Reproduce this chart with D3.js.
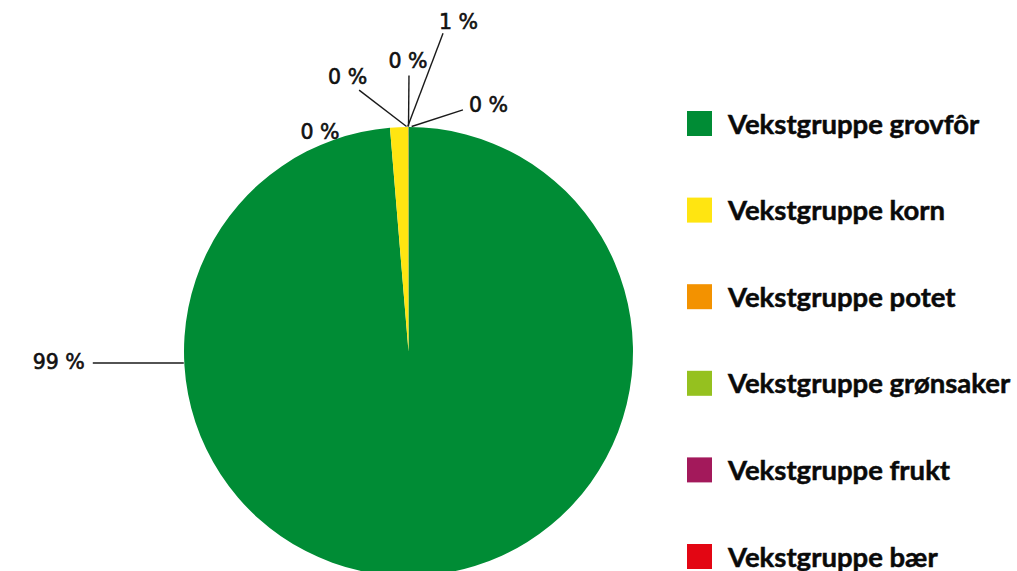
<!DOCTYPE html>
<html><head><meta charset="utf-8">
<script src="https://cdn.jsdelivr.net/npm/d3@7"></script>
<style>
html,body{margin:0;padding:0;background:#fff;}
svg{display:block;}
</style></head>
<body>
<svg id="chart" width="1017" height="571"></svg>
<script>
const categories = ["Vekstgruppe grovfôr","Vekstgruppe korn","Vekstgruppe potet","Vekstgruppe grønsaker","Vekstgruppe frukt","Vekstgruppe bær"];
const values = [98.7, 1.3, 0.004, 0.004, 0.004, 0.004];
const labels = ["99 %","1 %","0 %","0 %","0 %","0 %"];
const colors = ["#008C35","#FFE511","#F39200","#95C11F","#A3195B","#E30613"];

const svg = d3.select("#chart");
const cx = 408.5, cy = 351.5, R = 224.5;
const g = svg.append("g").attr("transform",`translate(${cx},${cy})`);

const pie = d3.pie().sort(null).value(d=>d).startAngle(0).endAngle(2*Math.PI);
const arcs = pie(values);
const arc = d3.arc().innerRadius(0).outerRadius(R);

g.selectAll("path.slice").data(arcs).enter().append("path")
  .attr("d", arc).attr("fill",(d,i)=>colors[i]);

const pt = (deg, r) => { const t = deg*Math.PI/180; return [r*Math.sin(t), -r*Math.cos(t)]; };
// label layout: line end (polar), line start angle, text offsets
const layout = [
  {s:-92.94, horiz:91, dx:-8, dy:6, anchor:"end"},
  {a:6.2, r:320, s:-0.2, dx:-4, dy:-4, anchor:"start"},
  {a:12.7, r:247.6, s:0.8, dx:6, dy:2, anchor:"start"},
  {a:0.1, r:276, s:0.0, dx:-1, dy:-8, anchor:"middle"},
  {a:-10.7, r:266, s:-0.5, dx:8, dy:-6, anchor:"end"},
  {a:-17.0, r:229, s:-17.0, dx:-2, dy:6, anchor:"end", noLine:true}
];

arcs.forEach((d,i)=>{
  const L = layout[i];
  const s = pt(L.s, R+0.5);
  const e = L.horiz ? [s[0]-L.horiz, s[1]] : pt(L.a, L.r);
  if(!L.noLine){
    g.append("line").attr("x1",s[0]).attr("y1",s[1]).attr("x2",e[0]).attr("y2",e[1])
      .attr("stroke","#1a1a1a").attr("stroke-width",1.4);
  }
  g.append("text").attr("x",e[0]+L.dx).attr("y",e[1]+L.dy)
    .attr("text-anchor",L.anchor)
    .attr("font-family","'DejaVu Sans', sans-serif").attr("font-size",20.5)
    .attr("fill","#111").attr("stroke","#111").attr("stroke-width",0.6)
    .text(labels[i]);
});

// legend
const ly = d3.scalePoint().domain(categories).range([123.5,556.5]);
const leg = svg.append("g");
categories.forEach((c,i)=>{
  const y = ly(c);
  leg.append("rect").attr("x",687).attr("y",y-12.5).attr("width",25).attr("height",25).attr("fill",colors[i]);
  leg.append("text").attr("x",728).attr("y",y+10).attr("font-family","Lato, sans-serif")
    .attr("font-weight",700).attr("font-size",27.5).attr("fill","#0a0a0a")
    .attr("stroke","#0a0a0a").attr("stroke-width",0.5).text(c);
});
</script>
</body></html>
